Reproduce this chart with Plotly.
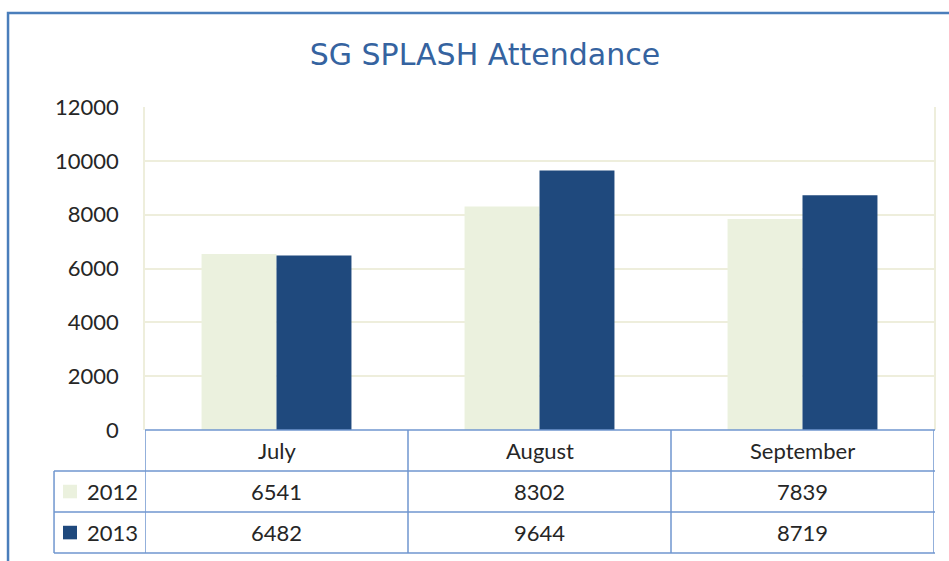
import plotly.graph_objects as go

months = ["July", "August", "September"]
years = ["2012", "2013"]
att_2012 = [6541, 8302, 7839]
att_2013 = [6482, 9644, 8719]
y_ticks = [0, 2000, 4000, 6000, 8000, 10000, 12000]

colors = {"2012": "#EBF1DE", "2013": "#1F497D"}
series = {"2012": att_2012, "2013": att_2013}
line_blue = "#6F96CF"
txt = "#262626"
font_main = "Lato"

fig = go.Figure()
for yr in years:
    fig.add_trace(go.Bar(x=months, y=series[yr], name=yr,
                         marker=dict(color=colors[yr], line=dict(width=0))))

fig.update_layout(
    width=949, height=561,
    margin=dict(l=145, r=15, t=107, b=131),
    paper_bgcolor="white", plot_bgcolor="white",
    barmode="group", bargap=0.43, bargroupgap=0,
    showlegend=False,
    title=dict(text="SG SPLASH Attendance", x=0.511, xanchor="center",
               y=0.902, yanchor="middle",
               font=dict(family="DejaVu Sans", size=30, color="#3563A0")),
    font=dict(family=font_main, size=22, color=txt),
    xaxis=dict(showticklabels=False, showgrid=False, zeroline=False,
               showline=False, range=[-0.5, 2.5]),
    yaxis=dict(range=[0, 12000], tickvals=y_ticks, tickformat="d",
               gridcolor="#EEEEDC", gridwidth=1.5, zeroline=False,
               showline=True, linecolor="#EEEEDC", linewidth=1.5, mirror=True,
               ticks="outside", ticklen=20, tickcolor="rgba(0,0,0,0)",
               tickfont=dict(family=font_main, size=22, color=txt)),
)

# data table under the plot
row_top = [0, -0.127, -0.254]
row_bot = -0.381
left_x = -0.1153
lw = 1.5

# horizontal lines
fig.add_shape(type="line", xref="paper", yref="paper", x0=0, x1=1.0013,
              y0=0, y1=0, line=dict(color=line_blue, width=lw))
for yy in row_top[1:] + [row_bot]:
    fig.add_shape(type="line", xref="paper", yref="paper", x0=left_x, x1=1.0013,
                  y0=yy, y1=yy, line=dict(color=line_blue, width=lw))
# vertical lines
for i in range(len(months) + 1):
    fig.add_shape(type="line", xref="x", yref="paper", x0=i - 0.5, x1=i - 0.5,
                  y0=0, y1=row_bot, line=dict(color=line_blue, width=lw))
fig.add_shape(type="line", xref="paper", yref="paper", x0=left_x, x1=left_x,
              y0=row_top[1], y1=row_bot, line=dict(color=line_blue, width=lw))

# header labels
for m in months:
    fig.add_annotation(x=m, y=(row_top[0] + row_top[1]) / 2, xref="x", yref="paper",
                       text=m, showarrow=False, yanchor="middle",
                       font=dict(family=font_main, size=22, color=txt))

# value rows with legend keys
for r, yr in enumerate(years):
    yc = (row_top[r + 1] + (row_top[r + 2] if r + 2 < len(row_top) else row_bot)) / 2
    for m, v in zip(months, series[yr]):
        fig.add_annotation(x=m, y=yc, xref="x", yref="paper", text=str(v),
                           showarrow=False, yanchor="middle",
                           font=dict(family=font_main, size=22, color=txt))
    fig.add_shape(type="rect", xref="paper", yref="paper",
                  x0=-0.1039, x1=-0.0862, y0=yc - 0.021, y1=yc + 0.021,
                  fillcolor=colors[yr], line=dict(width=0))
    fig.add_annotation(x=-0.0760, y=yc, xref="paper", yref="paper", text=yr,
                       showarrow=False, xanchor="left", yanchor="middle",
                       font=dict(family=font_main, size=22, color=txt))

# outer chart border (left and top visible)
fig.add_shape(type="rect", xref="paper", yref="paper",
              x0=-0.1736, x1=1.05, y0=-0.5, y1=1.291,
              line=dict(color="#4A7EBB", width=2.5))

fig.write_html("out.html", config={"displayModeBar": False},
               post_script="document.body.style.margin='0';")
